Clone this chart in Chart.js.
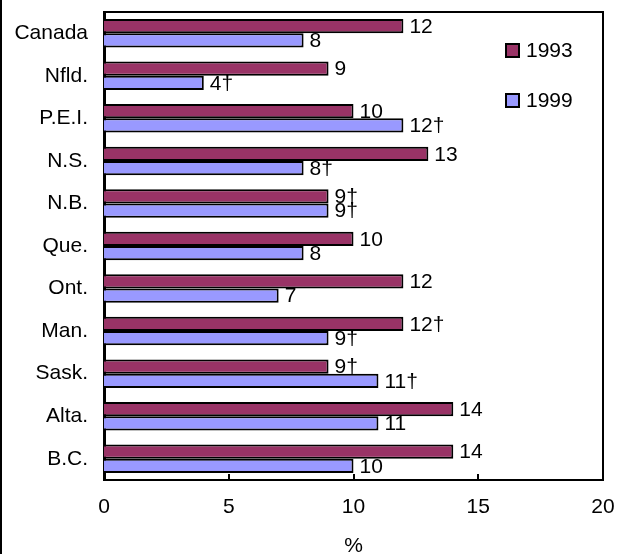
<!DOCTYPE html>
<html>
<head>
<meta charset="utf-8">
<script src="https://cdn.jsdelivr.net/npm/chart.js@4/dist/chart.umd.min.js"></script>
<style>
  html, body { margin: 0; padding: 0; background: #fff; }
  canvas { display: block; }
</style>
</head>
<body>
<canvas id="c" width="624" height="554"></canvas>
<script>
const categories = ['Canada', 'Nfld.', 'P.E.I.', 'N.S.', 'N.B.', 'Que.', 'Ont.', 'Man.', 'Sask.', 'Alta.', 'B.C.'];
const values1993 = [12, 9, 10, 13, 9, 10, 12, 12, 9, 14, 14];
const values1999 = [8, 4, 12, 8, 9, 8, 7, 9, 11, 11, 10];
const dagger1993 = [false, false, false, false, true, false, false, true, true, false, false];
const dagger1999 = [false, true, true, true, true, false, false, true, true, false, false];
const xTicks = [0, 5, 10, 15, 20];
const seriesNames = ['1993', '1999'];

const FONT = "'Liberation Sans', Arial, sans-serif";
const FS = 21;

const framePlugin = {
  id: 'frame',
  beforeDraw(chart) {
    const ctx = chart.ctx;
    ctx.save();
    ctx.fillStyle = '#fff';
    ctx.fillRect(0, 0, chart.width, chart.height);
    ctx.fillStyle = '#000';
    ctx.fillRect(0, 0, 2, chart.height);
    ctx.restore();
  },
  afterDatasetsDraw(chart) {
    const ctx = chart.ctx;
    const a = chart.chartArea;
    const xs = chart.scales.x;
    ctx.save();
    ctx.strokeStyle = '#000';
    ctx.lineWidth = 2;
    ctx.beginPath();
    ctx.moveTo(a.left, a.top);
    ctx.lineTo(a.right, a.top);
    ctx.lineTo(a.right, a.bottom);
    ctx.stroke();
    // inward tick marks
    xs.ticks.forEach(t => {
      const px = Math.round(xs.getPixelForValue(t.value));
      ctx.beginPath();
      ctx.moveTo(px, a.bottom);
      ctx.lineTo(px, a.bottom - 6);
      ctx.stroke();
    });
    // data labels
    ctx.fillStyle = '#000';
    ctx.font = FS + 'px ' + FONT;
    ctx.textAlign = 'left';
    ctx.textBaseline = 'middle';
    const daggers = [dagger1993, dagger1999];
    chart.data.datasets.forEach((ds, di) => {
      const meta = chart.getDatasetMeta(di);
      meta.data.forEach((bar, i) => {
        const txt = String(ds.data[i]) + (daggers[di][i] ? '\u2020' : '');
        ctx.fillText(txt, bar.x + 6, bar.y + 1);
      });
    });
    // legend
    const lx = 506, ly = [50, 100];
    chart.data.datasets.forEach((ds, di) => {
      ctx.fillStyle = ds.backgroundColor;
      ctx.fillRect(lx, ly[di] - 6, 13, 13);
      ctx.lineWidth = 2;
      ctx.strokeStyle = '#000';
      ctx.strokeRect(lx, ly[di] - 6, 13, 13);
      ctx.fillStyle = '#000';
      ctx.fillText(ds.label, lx + 20, ly[di] + 1);
    });
    ctx.restore();
  }
};

new Chart(document.getElementById('c'), {
  type: 'bar',
  data: {
    labels: categories,
    datasets: [
      { label: seriesNames[0], data: values1993, backgroundColor: '#993366', borderColor: '#000', borderWidth: 2 },
      { label: seriesNames[1], data: values1999, backgroundColor: '#9999FF', borderColor: '#000', borderWidth: 2 }
    ]
  },
  options: {
    indexAxis: 'y',
    responsive: false,
    animation: false,
    devicePixelRatio: 1,
    layout: { padding: { left: 0, right: 21, top: 12, bottom: -5 } },
    datasets: { bar: { categoryPercentage: 0.67, barPercentage: 1.0 } },
    plugins: { legend: { display: false }, tooltip: { enabled: false } },
    scales: {
      x: {
        min: 0, max: 20,
        afterBuildTicks(scale) { scale.ticks = xTicks.map(v => ({ value: v })); },
        afterFit(scale) { scale.height = 79; scale.paddingLeft = 0; scale.paddingRight = 0; },
        grid: { display: false, drawTicks: false },
        border: { display: true, color: '#000', width: 2 },
        ticks: { color: '#000', font: { family: FONT, size: FS }, padding: 15, maxRotation: 0 },
        title: { display: true, text: '%', color: '#000', font: { family: FONT, size: FS }, padding: { top: 15, bottom: 0 } }
      },
      y: {
        afterFit(scale) { scale.width = 104; scale.paddingTop = 0; scale.paddingBottom = 0; },
        grid: { display: false, drawTicks: false },
        border: { display: true, color: '#000', width: 3 },
        ticks: { color: '#000', font: { family: FONT, size: FS }, padding: 16 }
      }
    }
  },
  plugins: [framePlugin]
});
</script>
</body>
</html>
